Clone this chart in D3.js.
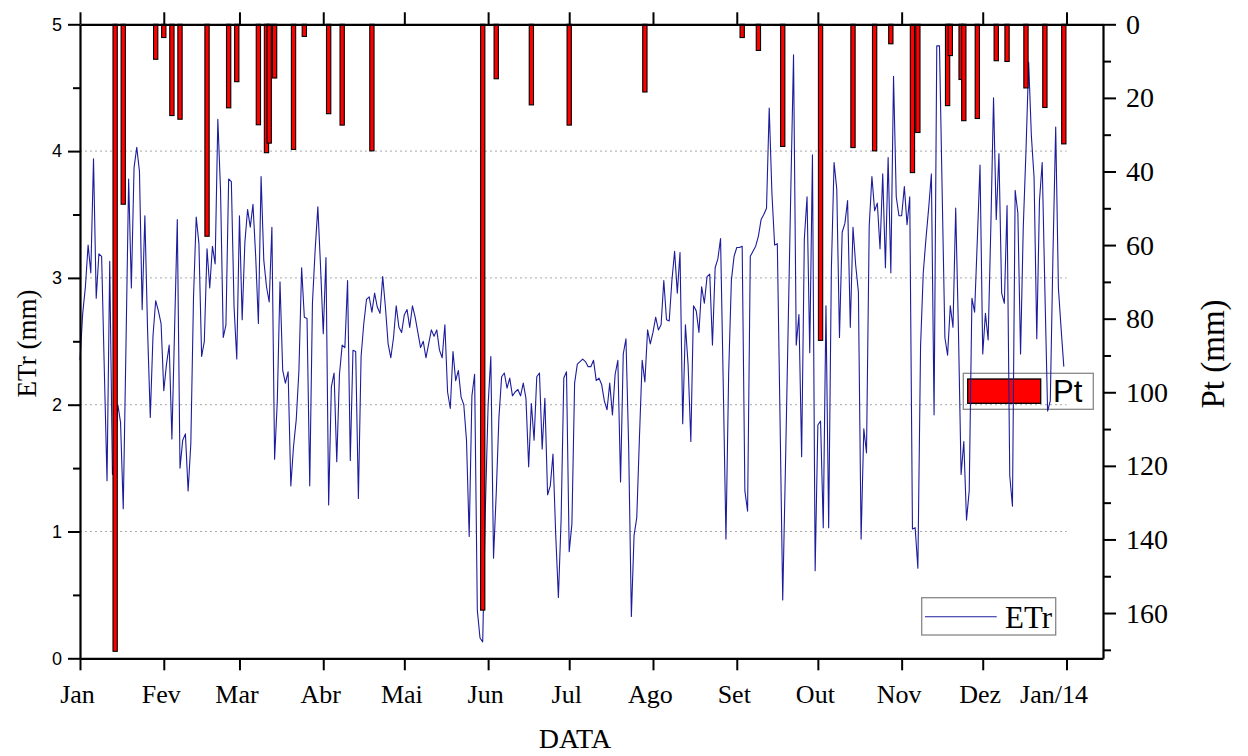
<!DOCTYPE html>
<html><head><meta charset="utf-8">
<script src="https://cdn.jsdelivr.net/npm/d3@7"></script>
<style>body{margin:0;background:#fff;} svg{display:block;}</style>
</head><body>
<svg id="chart" width="1248" height="756"></svg>
<script>
// ---------------- DATA ----------------
const startDate = "2013-01-01";
// daily ETr (mm), 2013-01-01 .. 2013-12-31
const etrValues = [
2.35,2.72,2.93,3.26,3.04,3.94,2.84,3.19,3.17,2.27,
1.40,3.13,1.45,1.60,2.00,1.86,1.18,2.45,3.78,2.92,
3.87,4.03,3.84,2.75,3.49,2.59,1.90,2.54,2.82,2.74,
2.64,2.11,2.32,2.47,1.73,2.60,3.46,1.50,1.72,1.77,
1.32,1.69,2.85,3.48,3.27,2.38,2.50,3.23,2.92,3.25,
3.11,4.25,3.69,2.53,2.63,3.78,3.76,2.77,2.36,3.49,
2.67,3.28,3.54,3.40,3.58,3.17,2.64,3.80,3.14,2.93,
2.81,3.40,1.57,2.03,2.97,2.27,2.17,2.26,1.36,1.67,
1.88,2.27,3.08,2.69,2.68,1.36,2.80,3.22,3.56,3.09,
2.56,3.16,1.21,2.14,2.25,1.55,2.24,2.47,2.45,2.98,
1.56,2.43,2.42,1.26,2.38,2.64,2.83,2.85,2.73,2.88,
2.77,2.72,3.01,2.77,2.48,2.37,2.53,2.78,2.61,2.57,
2.71,2.75,2.61,2.78,2.69,2.57,2.45,2.50,2.37,2.48,
2.59,2.54,2.59,2.43,2.37,2.63,2.10,1.97,2.42,2.19,
2.27,2.06,2.00,1.72,0.96,2.07,2.24,0.38,0.16,0.13,
1.20,2.00,2.38,0.79,1.30,1.90,2.22,2.25,2.13,2.21,
2.07,2.10,2.12,2.07,2.17,2.05,1.51,2.01,1.72,2.22,
2.25,1.65,2.05,1.29,1.36,1.61,0.98,0.48,1.09,2.21,
2.26,0.84,1.06,2.17,2.32,2.34,2.36,2.34,2.30,2.30,
2.35,2.19,2.21,2.16,2.03,1.96,2.17,1.92,2.24,2.35,
1.39,2.40,2.52,1.67,0.33,0.97,1.11,1.75,2.35,2.18,
2.59,2.48,2.57,2.69,2.59,2.63,2.98,2.67,2.66,2.98,
3.21,2.88,3.20,1.85,2.63,2.31,1.71,2.78,2.74,2.57,
2.93,2.80,3.01,3.03,2.47,3.08,3.15,3.31,2.16,0.94,
2.25,2.98,3.17,3.24,3.24,3.25,1.32,1.16,3.17,3.21,
3.25,3.33,3.46,3.50,3.55,4.34,3.67,3.26,3.27,1.90,
0.46,1.50,2.60,3.70,4.76,2.47,2.71,1.59,3.31,3.64,
2.41,3.97,0.69,1.84,1.87,1.03,2.78,1.03,3.07,3.91,
3.70,2.53,3.36,3.43,3.61,2.61,3.40,3.10,2.89,0.94,
1.81,1.62,3.41,3.80,3.53,3.59,3.23,3.82,3.08,3.95,
3.04,4.59,3.64,3.49,3.49,3.72,3.42,3.64,1.02,1.03,
0.71,2.46,3.04,3.31,3.55,3.82,1.92,4.83,4.83,3.67,
2.53,2.39,2.78,2.61,3.55,2.60,1.45,1.71,1.09,1.32,
2.84,2.73,3.30,3.89,2.40,2.72,2.51,3.40,4.42,3.46,
3.98,2.88,2.80,3.57,1.44,1.20,3.69,3.51,2.40,3.40,
4.00,4.70,4.12,3.79,2.52,3.61,3.91,2.90,1.95,2.03,
3.20,4.19,2.92,2.60,2.30
];
// rain events (Pt, mm)
const ptDates = [
"2013-01-14","2013-01-17","2013-01-29","2013-02-01","2013-02-04","2013-02-07",
"2013-02-17","2013-02-25","2013-02-28","2013-03-08","2013-03-11","2013-03-12",
"2013-03-14","2013-03-21","2013-03-25","2013-04-03","2013-04-08","2013-04-19",
"2013-05-30","2013-06-04","2013-06-17","2013-07-01","2013-07-29","2013-09-03",
"2013-09-09","2013-09-18","2013-10-02","2013-10-14","2013-10-22","2013-10-28",
"2013-11-05","2013-11-07","2013-11-18","2013-11-19","2013-11-23","2013-11-24",
"2013-11-29","2013-12-06","2013-12-10","2013-12-17","2013-12-24","2013-12-31"
];
const ptValues = [
170.4,48.9,9.5,3.6,24.8,25.8,
57.6,22.7,15.6,27.3,34.9,32.3,
14.6,34.0,3.3,24.3,27.4,34.4,
159.2,14.8,21.9,27.4,18.4,3.6,
7.1,33.2,85.9,33.5,34.4,5.3,
40.3,29.4,22.1,8.5,15.0,26.2,
25.6,9.9,10.1,17.3,22.6,32.5
];
const monthLabels = ["Jan","Fev","Mar","Abr","Mai","Jun","Jul","Ago","Set","Out","Nov","Dez","Jan/14"];
const leftTicks = [0,1,2,3,4,5];
const leftMinor = [0.5,1.5,2.5,3.5,4.5];
const gridTicks = [1,2,3,4];
const rightTicks = [0,20,40,60,80,100,120,140,160];
const rightMinor = [10,30,50,70,90,110,130,150,170];

// ---------------- CHART ----------------
const parse = d3.timeParse("%Y-%m-%d");
const t0 = parse(startDate);
const etr = etrValues.map((v,i)=>({date:d3.timeDay.offset(t0,i), v}));
const pt = ptDates.map((d,i)=>({date:parse(d), v:ptValues[i]}));
const monthDates = d3.timeMonth.range(t0, d3.timeDay.offset(d3.timeYear.offset(t0,1),1));

const L=80, R=1103, T=24.3, B=658.3;
const x = d3.scaleTime().domain([t0, new Date(2014,0,14,12)]).range([L,R]);
const yL = d3.scaleLinear().domain([0,5]).range([B,T]);
const yR = d3.scaleLinear().domain([0,172.3]).range([T,B]);

const serif = "'Liberation Serif','Times New Roman',serif";
const sans = "'Liberation Sans',Arial,sans-serif";
const svg = d3.select("#chart");

// gridlines
const gridEnd = x(d3.timeYear.offset(t0,1));
svg.append("g").selectAll("line").data(gridTicks).join("line")
  .attr("x1",L).attr("x2",gridEnd)
  .attr("y1",d=>yL(d)).attr("y2",d=>yL(d))
  .attr("stroke","#a8a8a8").attr("stroke-width",1).attr("stroke-dasharray","2,3");

// Pt legend (behind line)
const lg1 = svg.append("g");
lg1.append("rect").attr("x",963.3).attr("y",373.3).attr("width",130).attr("height",36)
  .attr("fill","none").attr("stroke","#888").attr("stroke-width",1.3);
lg1.append("rect").attr("x",967.7).attr("y",379).attr("width",73).attr("height",24.3)
  .attr("fill","#ff0000").attr("stroke","#000").attr("stroke-width",1.3);
lg1.append("text").attr("x",1053).attr("y",401.7).attr("font-family",sans).attr("font-size",31)
  .text("Pt");

// ETr line
svg.append("path").datum(etr)
  .attr("fill","none").attr("stroke","#1c1c9c").attr("stroke-width",1.1)
  .attr("stroke-linejoin","round")
  .attr("d", d3.line().x(d=>x(d.date)).y(d=>yL(d.v)));

// Pt bars
const bw = x(d3.timeHour.offset(t0,38)) - x(t0);
svg.append("g").selectAll("rect").data(pt).join("rect")
  .attr("x",d=>x(d.date)-bw/2).attr("width",bw)
  .attr("y",yR(0)).attr("height",d=>yR(d.v)-yR(0))
  .attr("fill","#ff0000").attr("stroke","#000").attr("stroke-width",1.1);

// axes
function styleAxis(g, font, size){
  g.select(".domain").attr("stroke","#000").attr("stroke-width",2.2);
  g.selectAll(".tick line").attr("stroke","#000").attr("stroke-width",2);
  g.selectAll("text").attr("font-family",font).attr("font-size",size).attr("fill","#000");
}
// bottom
const gb = svg.append("g").attr("transform",`translate(0,${B})`)
  .call(d3.axisBottom(x).tickValues(monthDates).tickSize(12).tickSizeOuter(0).tickPadding(14)
    .tickFormat((d,i)=>monthLabels[i]));
styleAxis(gb, serif, 26);
gb.selectAll(".tick text").attr("dx",(d,i)=> i===monthLabels.length-1 ? -13 : -3);
// top
const gt = svg.append("g").attr("transform",`translate(0,${T})`)
  .call(d3.axisTop(x).tickValues(monthDates).tickSize(12).tickSizeOuter(0).tickFormat(""));
styleAxis(gt, serif, 26);
// left
const gl = svg.append("g").attr("transform",`translate(${L},0)`)
  .call(d3.axisLeft(yL).tickValues(leftTicks).tickSize(12).tickSizeOuter(0).tickPadding(6)
    .tickFormat(d3.format("d")));
styleAxis(gl, sans, 18);
const glm = svg.append("g").attr("transform",`translate(${L},0)`)
  .call(d3.axisLeft(yL).tickValues(leftMinor).tickSize(7).tickFormat(""));
styleAxis(glm, sans, 18);
glm.select(".domain").remove();
// right
const gr = svg.append("g").attr("transform",`translate(${R},0)`)
  .call(d3.axisRight(yR).tickValues(rightTicks).tickSize(13).tickSizeOuter(0).tickPadding(10)
    .tickFormat(d3.format("d")));
styleAxis(gr, serif, 28);
const grm = svg.append("g").attr("transform",`translate(${R},0)`)
  .call(d3.axisRight(yR).tickValues(rightMinor).tickSize(8).tickFormat(""));
styleAxis(grm, serif, 28);
grm.select(".domain").remove();

// ETr legend
const lg2 = svg.append("g");
lg2.append("rect").attr("x",921.7).attr("y",597.7).attr("width",134).attr("height",37.3)
  .attr("fill","none").attr("stroke","#888").attr("stroke-width",1.3);
lg2.append("line").attr("x1",925).attr("x2",996.7).attr("y1",616.7).attr("y2",616.7)
  .attr("stroke","#1c1c9c").attr("stroke-width",1.1);
lg2.append("text").attr("x",1005).attr("y",628).attr("font-family",serif).attr("font-size",31)
  .text("ETr");

// titles
svg.append("text").attr("x",575).attr("y",748).attr("text-anchor","middle")
  .attr("font-family",serif).attr("font-size",28).text("DATA");
svg.append("text").attr("transform","translate(36,343.5) rotate(-90)").attr("text-anchor","middle")
  .attr("font-family",serif).attr("font-size",27).text("ETr (mm)");
svg.append("text").attr("transform","translate(1224,354) rotate(-90)").attr("text-anchor","middle")
  .attr("font-family",serif).attr("font-size",33).text("Pt (mm)");
</script>
</body></html>
